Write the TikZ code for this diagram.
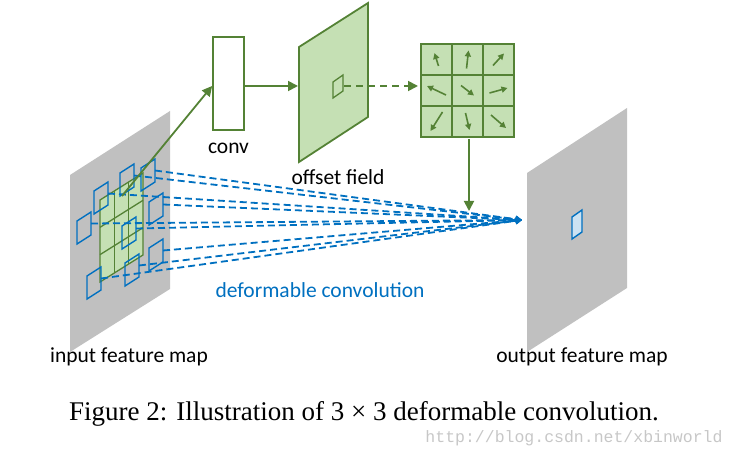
\documentclass[tikz,border=0pt]{standalone}
\usepackage{fontspec}
\setmainfont{Carlito}
\newfontfamily\capfont{Liberation Serif}
\newfontfamily\wmfont{Liberation Mono}
\usetikzlibrary{arrows.meta}
\definecolor{dgreen}{HTML}{548235}
\definecolor{lgreen}{HTML}{C5E0B4}
\definecolor{dblue}{HTML}{0070C0}
\definecolor{mapgray}{HTML}{C0C0C0}
\begin{document}
\begin{tikzpicture}[x=1pt,y=-1pt]

\tikzset{
    lbl/.style={font=\fontsize{21.5}{24}\selectfont, inner sep=0pt},
    gline/.style={draw=dgreen, line width=1.8pt},
    garrow/.style={gline, -{Triangle[length=10pt,width=10pt]}},
    bline/.style={draw=dblue, line width=1.4pt},
    bdash/.style={bline, line width=1.8pt, dash pattern=on 7pt off 4pt, -{Triangle[length=6pt,width=7pt]}}
}
\useasboundingbox (0,0) rectangle (737,457);

% feature maps
\fill[mapgray] (70,175) -- (170,111) -- (170,289) -- (70,352) -- cycle;
\fill[mapgray] (527,173) -- (627,108) -- (627,288) -- (527,352) -- cycle;
\draw[bline, fill=dblue!20] (572,217) -- (582,210) -- (582,232) -- (572,239) -- cycle;

% sampling grid on input
\draw[gline, line width=1.3pt, fill=lgreen] (100,200) -- (143,173) -- (143,255) -- (100,282) -- cycle;
\foreach \t in {1,2} {
    \draw[gline, line width=1.3pt] (100+43*\t/3,200-27*\t/3) -- (100+43*\t/3,282-27*\t/3);
    \draw[gline, line width=1.3pt] (100,200+82*\t/3) -- (143,173+82*\t/3);
}

% deformed sampling locations
\coordinate (tip) at (522,220);
\foreach \cx/\cy [count=\i] in {101/198,127/180,148/175,84/228,156/209,129/233,156/255,132/270,94/283} {
    \draw[bline] (\cx-7,\cy-7) -- (\cx+7,\cy-16) -- (\cx+7,\cy+7) -- (\cx-7,\cy+16) -- cycle;
    \coordinate (s\i) at (\cx+7,\cy-4.5);
    \draw[bdash] (s\i) -- (tip);
}

% conv and offset field
\node[draw=dgreen, line width=1.8pt, fill=white, minimum width=31pt, minimum height=93pt, inner sep=0pt] (conv) at (228.5,83.5) {};
\node[lbl, below=12pt] (convlbl) at (conv.south) {conv};
\draw[garrow] (122,196) -- (conv.south west |- 0,86);
\coordinate (field) at (298,86);
\draw[gline, fill=lgreen] (299,47) -- (368,3) -- (368,117) -- (299,162) -- cycle;
\draw[gline, line width=1.3pt] (333,82) -- (343,75) -- (343,91) -- (333,98) -- cycle;
\draw[garrow] (conv.east |- 0,86) -- (field);
\node[lbl] (fieldlbl) at (338,177) {offset field};

% offsets
\coordinate (offs) at (418,86);
\draw[garrow, dash pattern=on 7pt off 5pt] (344,86) -- (offs);
\draw[gline, fill=lgreen] (421,44) rectangle (514,137);
\foreach \t in {1,2} {
    \draw[gline] (421+31*\t,44) -- (421+31*\t,137);
    \draw[gline] (421,44+31*\t) -- (514,44+31*\t);
}
\foreach \r/\c/\dx/\dy in {0/0/-4/-13,0/1/2/-18,0/2/11/-12,1/0/-19/-9,1/1/13/10,1/2/18/-5,2/0/-12/19,2/1/4/17,2/2/15/13} {
    \draw[gline, line width=1.6pt, -{Triangle[length=6pt,width=6pt]}]
        (436.5+31*\c-\dx/2,59.5+31*\r-\dy/2) -- (436.5+31*\c+\dx/2,59.5+31*\r+\dy/2);
}
\draw[garrow] (469,139) -- (469,211);

% labels
\node[lbl] (inlbl) at (129,357) {input feature map};
\node[lbl] (outlbl) at (582,357) {output feature map};
\node[lbl, text=dblue] (dclbl) at (320,290) {deformable convolution};
\node[font=\capfont\fontsize{27}{30}\selectfont, inner sep=0pt] (cap) at (364,414) {Figure 2: Illustration of 3 × 3 deformable convolution.};
\node[font=\wmfont\fontsize{16.5}{18}\selectfont, text=black!22, inner sep=0pt] (wm) at (574,438) {http://blog.csdn.net/xbinworld};
\end{tikzpicture}
\end{document}
